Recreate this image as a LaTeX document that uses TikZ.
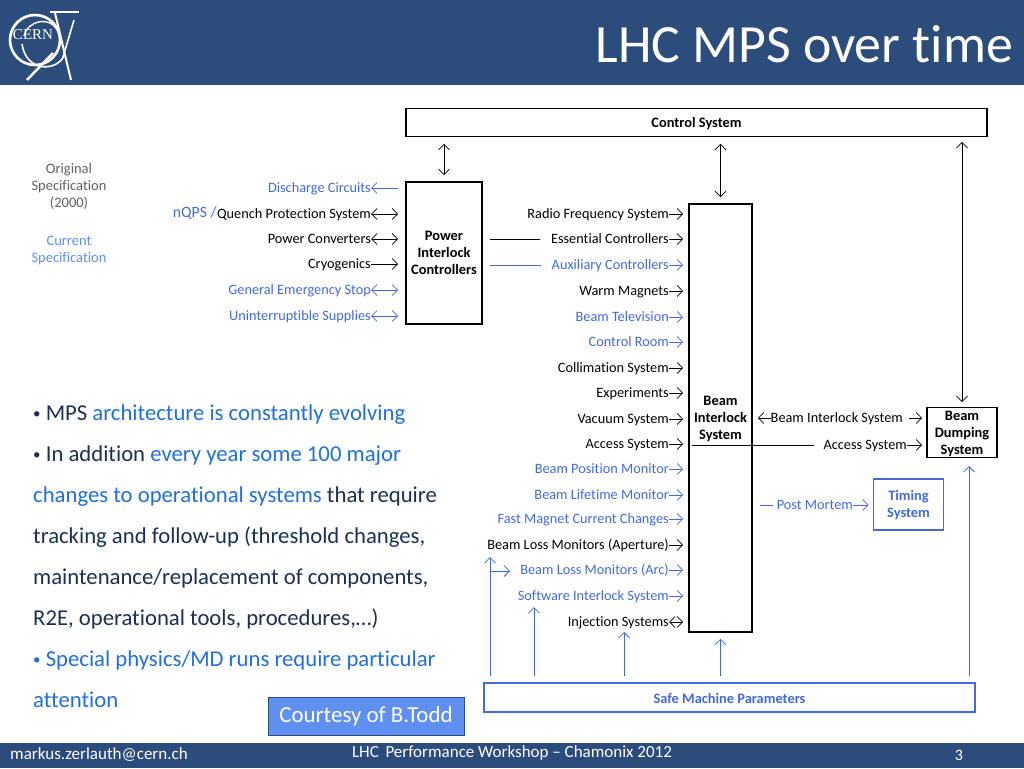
\documentclass[tikz,border=0pt]{standalone}
\usepackage{fontspec}
\setmainfont[Ligatures=NoCommon]{Carlito}
\newfontfamily\cernfont{Liberation Serif}
\usetikzlibrary{arrows.meta}
\definecolor{headblue}{HTML}{2C4D7C}
\definecolor{specblue}{HTML}{4169DC}
\definecolor{bodyblue}{HTML}{1F6FDC}
\definecolor{bodydark}{HTML}{1B2F55}
\definecolor{lightblue}{HTML}{5F8FF0}
\newcommand{\bul}{\raisebox{2pt}{\fontsize{15}{15}\selectfont •}}
\tikzset{
  lbl/.style={anchor=east,inner sep=0pt,text height=10pt,text depth=1pt,font=\fontsize{14.3}{15}\selectfont},
  blbl/.style={lbl,text=specblue},
  box/.style={draw=black,line width=1.6pt,fill=white,align=center,inner sep=0pt,font=\fontsize{14.4}{17}\selectfont\bfseries},
  bbox/.style={box,draw=specblue,text=specblue},
  arr/.style={-{Straight Barb[length=5.5pt,width=11pt]},line width=0.8pt,draw=black},
  dbl/.style={{Straight Barb[length=5.5pt,width=11pt]}-{Straight Barb[length=5.5pt,width=11pt]},line width=0.8pt,draw=black},
  barr/.style={arr,draw=specblue},
  bdbl/.style={dbl,draw=specblue},
  bull/.style={anchor=west,inner sep=0pt,text height=16pt,text depth=5pt,font=\fontsize{22.7}{24}\selectfont}
}
\begin{document}
\begin{tikzpicture}[x=1pt,y=-1pt]
\useasboundingbox (0,0) rectangle (1024,768);
%header and footer
\fill[headblue] (0,0) rectangle (1024,85);
\fill[headblue] (0,743) rectangle (1024,768);
\node[anchor=east,inner sep=0pt,text=white,font=\fontsize{53.8}{56}\selectfont] (title) at (1013,44) {LHC MPS over time};
\node[anchor=west,inner sep=0pt,text=white,font=\fontsize{17}{19}\selectfont] (mail) at (10,755) {markus.zerlauth@cern.ch};
\node[inner sep=0pt,text=white,font=\fontsize{17}{19}\selectfont] (work) at (512,753) {LHC\, Performance Workshop – Chamonix 2012};
\node[inner sep=0pt,text=white,font=\fontsize{16}{18}\selectfont] (page) at (959,755) {3};
%logo
\draw[white,line width=2.6pt] (35,40) circle (25);
\draw[white,line width=1.4pt] (24,36) .. controls (28,20) and (50,16) .. (57,30);
\draw[white,line width=1.6pt] (22,44) .. controls (26,72) and (56,72) .. (64,56);
\draw[white,line width=2.5pt] (50,12) -- (79,12);
\draw[white,line width=2pt] (55,13) -- (71,80);
\draw[white,line width=2.5pt] (27,80) -- (53,53);
\draw[white,line width=1.6pt] (74,20) -- (63,57);
\node[inner sep=0pt,text=white,font=\fontsize{15}{15}\selectfont\cernfont] (cern) at (33,35) {CERN};
%legend
\node[align=center,inner sep=0pt,text=gray!75!black,font=\fontsize{14.5}{17}\selectfont] (orig) at (69,186) {Original\\Specification\\(2000)};
\node[align=center,inner sep=0pt,text=lightblue,font=\fontsize{14.5}{17}\selectfont] (curr) at (69,250) {Current\\Specification};
%main boxes
\node[box,minimum width=581,minimum height=28] (ctrl) at (696.5,122.5) {\rule{0pt}{12pt}Control System};
\node[box,minimum width=76,minimum height=142] (pic) at (444,253) {Power\\Interlock\\Controllers};
\node[box,minimum width=63,minimum height=428] (bis) at (720.5,418) {\rule{0pt}{12pt}Beam\\Interlock\\System};
\node[box,minimum width=70,minimum height=50] (bds) at (962,432.5) {\rule{0pt}{12pt}Beam\\Dumping\\System};
\node[bbox,minimum width=70,minimum height=51] (tim) at (908.5,504.5) {\rule{0pt}{12pt}Timing\\System};
\node[bbox,minimum width=491,minimum height=29] (smp) at (729.5,697.5) {\rule{0pt}{12pt}Safe Machine Parameters};
%left column
\node[blbl] (dc) at (371,188) {Discharge Circuits};
\node[lbl] (qps) at (371,214) {Quench Protection System};
\node[blbl,font=\fontsize{15.7}{17}\selectfont,yshift=1pt] (nqps) at (qps.west) {nQPS /};
\node[lbl] (pc) at (371,239) {Power Converters};
\node[lbl] (cryo) at (371,264) {Cryogenics};
\node[blbl] (ges) at (371,290) {General Emergency Stop};
\node[blbl] (ups) at (371,316) {Uninterruptible Supplies};
\draw[barr] ([xshift=-7pt]dc.east -| pic.west) -- (dc.east);
\foreach \n in {qps,pc}
  \draw[dbl] (\n.east) -- ([xshift=-7pt]\n.east -| pic.west);
\draw[arr] (cryo.east) -- ([xshift=-7pt]cryo.east -| pic.west);
\foreach \n in {ges,ups}
  \draw[bdbl] (\n.east) -- ([xshift=-7pt]\n.east -| pic.west);
%inputs of the beam interlock
\node[lbl] (rf) at (669,214) {Radio Frequency System};
\node[lbl] (ess) at (669,239) {Essential Controllers};
\node[blbl] (aux) at (669,265) {Auxiliary Controllers};
\node[lbl] (warm) at (669,291) {Warm Magnets};
\node[blbl] (tv) at (669,317) {Beam Television};
\node[blbl] (room) at (669,342) {Control Room};
\node[lbl] (coll) at (669,368) {Collimation System};
\node[lbl] (exp) at (669,393) {Experiments};
\node[lbl] (vac) at (669,419) {Vacuum System};
\node[lbl] (acc) at (669,444) {Access System};
\node[blbl] (bpm) at (669,469) {Beam Position Monitor};
\node[blbl] (blt) at (669,495) {Beam Lifetime Monitor};
\node[blbl] (fmc) at (669,519) {Fast Magnet Current Changes};
\node[lbl] (blma) at (669,545) {Beam Loss Monitors (Aperture)};
\node[blbl] (blmc) at (669,570) {Beam Loss Monitors (Arc)};
\node[blbl] (sis) at (669,596) {Software Interlock System};
\node[lbl] (inj) at (669,622) {Injection Systems};
\foreach \n in {rf,ess,warm,coll,exp,vac,acc,blma}
  \draw[arr] (\n.east) -- ([xshift=-5pt]\n.east -| bis.west);
\foreach \n in {aux,tv,room,bpm,blt,fmc,blmc,sis}
  \draw[barr] (\n.east) -- ([xshift=-5pt]\n.east -| bis.west);
\draw[dbl] (inj.east) -- ([xshift=-5pt]inj.east -| bis.west);
\draw[black,line width=0.8pt] ([xshift=7pt]ess.west -| pic.east) -- ([xshift=-11pt]ess.west);
\draw[specblue,line width=0.8pt] ([xshift=7pt]aux.west -| pic.east) -- ([xshift=-11pt]aux.west);
%right column
\node[lbl] (bisr) at (903,418) {Beam Interlock System};
\node[lbl] (accr) at (907,445) {Access System};
\node[blbl] (pm) at (853,505) {Post Mortem};
\draw[arr] (bisr.west) -- ([xshift=5pt]bisr.west -| bis.east);
\draw[arr] ([xshift=6pt]bisr.east) -- ([xshift=-4pt]bisr.east -| bds.west);
\draw[arr] (accr.east) -- ([xshift=-4pt]accr.east -| bds.west);
\draw[black,line width=0.8pt] ([xshift=4pt]accr.west -| bis.west) -- ([xshift=-9pt]accr.west);
\draw[barr] (pm.east) -- ([xshift=-4pt]pm.east -| tim.west);
\draw[specblue,line width=0.8pt] ([xshift=7pt]pm.west -| bis.east) -- ([xshift=-4pt]pm.west);
%vertical links
\coordinate (up1) at (490,557);
\coordinate (up2) at (534,607);
\coordinate (up3) at (624,632);
\coordinate (up4) at (969,466);
\coordinate (branch) at (510,571);
\draw[dbl] ([yshift=-6.5pt]ctrl.south -| pic) -- ([yshift=6pt]pic.north);
\draw[dbl] ([yshift=-6.5pt]ctrl.south -| bis) -- ([yshift=6pt]bis.north);
\draw[dbl] ([yshift=-4.5pt]ctrl.south -| bds) -- ([yshift=4.5pt]bds.north);
\foreach \n in {up1,up2,up3,up4}
  \draw[barr] ([yshift=6pt]smp.north -| \n) -- (\n);
\draw[barr] (branch -| up1) -- (branch);
\draw[barr] ([yshift=6pt]smp.north -| bis) -- ([yshift=-6pt]bis.south);
%text on the left
\node[bull,text=bodydark] (t1) at (33,415) {\bul{} MPS \textcolor{bodyblue}{architecture is constantly evolving}};
\node[bull,text=bodydark] (t2) at (33,456) {\bul{} In addition \textcolor{bodyblue}{every year some 100 major}};
\node[bull,text=bodyblue] (t3) at (33,497) {changes to operational systems \textcolor{bodydark}{that require}};
\node[bull,text=bodydark] (t4) at (33,538) {tracking and follow-up (threshold changes,};
\node[bull,text=bodydark] (t5) at (33,579) {maintenance/replacement of components,};
\node[bull,text=bodydark] (t6) at (33,620) {R2E, operational tools, procedures,…)};
\node[bull,text=bodyblue] (t7) at (33,661) {\bul{} Special physics/MD runs require particular};
\node[bull,text=bodyblue] (t8) at (33,702) {attention};
\node[draw=headblue,line width=0.8pt,fill=lightblue,text=white,inner sep=0pt,minimum width=196,minimum height=38,font=\fontsize{22.9}{24}\selectfont] (courtesy) at (366,716) {Courtesy of B.Todd};
\end{tikzpicture}
\end{document}
